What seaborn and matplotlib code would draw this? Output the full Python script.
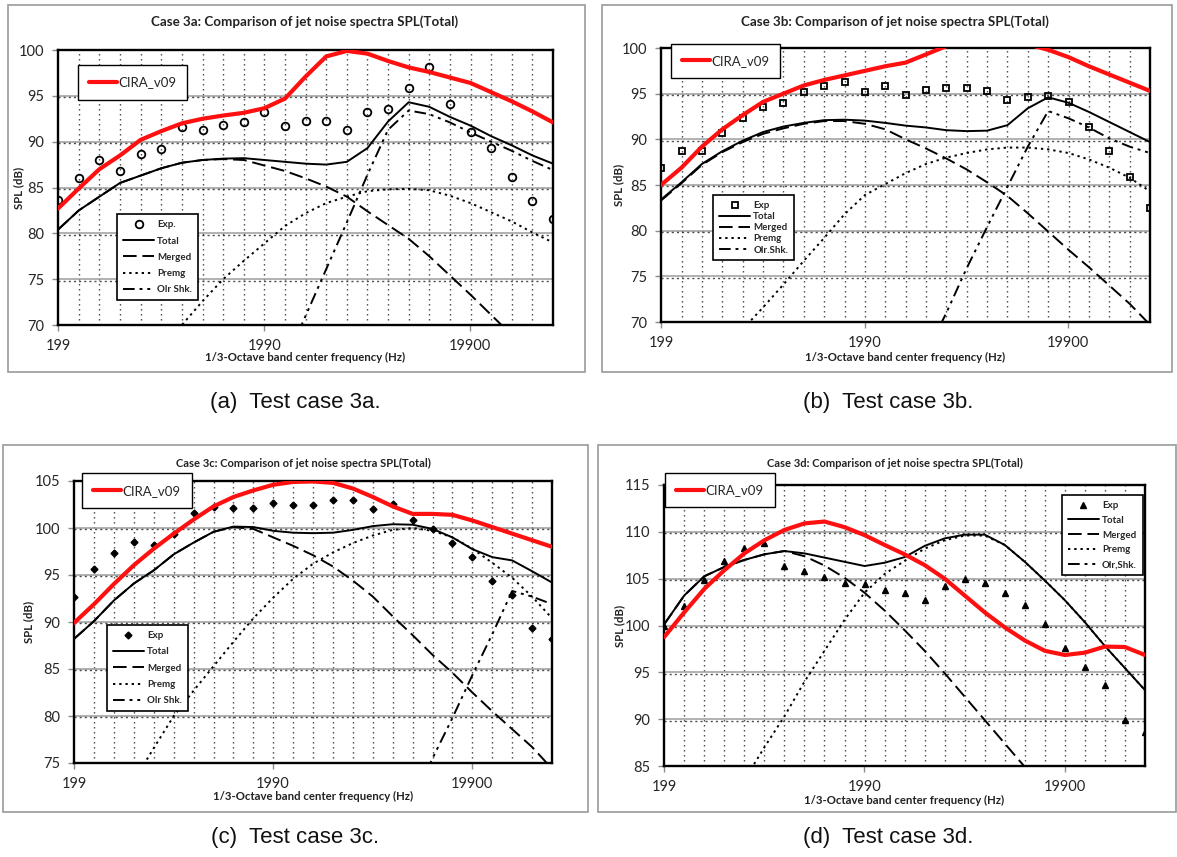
import numpy as np
import matplotlib
matplotlib.use("Agg")
import matplotlib.pyplot as plt
import seaborn as sns
from matplotlib.patches import Rectangle
from matplotlib.ticker import FixedLocator, NullFormatter

nan = np.nan

# 1/3-octave band centre frequencies (Hz)
freq = [199, 251, 316, 398, 501, 631, 794, 1000, 1259, 1585, 1995, 2512, 3162,
        3981, 5012, 6310, 7943, 10000, 12589, 15849, 19953, 25119, 31623, 39811, 50119]
x_ticks = [199, 1990, 19900]
x_tick_labels = ["199", "1990", "19900"]

# ---------------- Case 3a ----------------
a_exp = [83.6, 86.0, 88.0, 86.8, 88.7, 89.2, 91.6, 91.3, 91.8, 92.2, 93.2, 91.7, 92.3,
         92.3, 91.3, 93.2, 93.6, 95.9, 98.1, 94.1, 91.1, 89.3, 86.1, 83.5, 81.6]
a_total = [80.4, 82.5, 84.0, 85.5, 86.3, 87.1, 87.7, 88.0, 88.15, 88.2, 88.0, 87.8, 87.6,
           87.5, 87.8, 89.3, 92.2, 94.3, 93.8, 92.7, 91.75, 90.6, 89.6, 88.5, 87.6]
a_merged = [80.4, 82.5, 84.0, 85.5, 86.3, 87.1, 87.7, 88.0, 88.1, 88.0, 87.4, 86.8, 86.0,
            85.1, 84.0, 82.4, 80.9, 79.4, 77.5, 75.4, 73.3, 71.1, 68.9, 66.7, 64.5]
a_premg = [nan, nan, nan, nan, nan, 67.5, 70.0, 72.6, 75.0, 77.0, 78.9, 80.8, 82.2,
           83.3, 84.0, 84.6, 84.8, 84.85, 84.7, 84.1, 83.3, 82.3, 81.3, 80.1, 79.0]
a_olr = [nan, nan, nan, nan, nan, nan, nan, nan, nan, nan, nan, 65.9, 71.0,
         76.1, 81.2, 86.4, 91.3, 93.4, 93.0, 92.1, 91.0, 90.0, 89.0, 87.9, 86.9]
a_cira = [82.7, 84.9, 87.0, 88.5, 90.2, 91.15, 92.0, 92.5, 92.85, 93.15, 93.65, 94.7, 97.1,
          99.3, 99.9, 99.6, 98.8, 98.1, 97.6, 97.0, 96.4, 95.4, 94.4, 93.3, 92.1]

# ---------------- Case 3b ----------------
b_exp = [86.9, 88.7, 88.7, 90.7, 92.3, 93.5, 94.0, 95.2, 95.8, 96.3, 95.2, 95.8, 94.8,
         95.4, 95.6, 95.6, 95.3, 94.3, 94.6, 94.7, 94.1, 91.4, 88.7, 85.9, 82.5]
b_total = [83.4, 85.3, 87.3, 88.7, 89.85, 90.8, 91.4, 91.8, 92.1, 92.15, 92.05, 91.8, 91.5,
           91.3, 91.0, 90.9, 90.95, 91.55, 93.4, 94.6, 94.0, 93.0, 91.9, 90.8, 89.7]
b_merged = [83.3, 85.2, 87.2, 88.6, 89.7, 90.6, 91.2, 91.7, 92.0, 92.0, 91.7, 91.1, 90.0,
            89.0, 87.9, 86.7, 85.3, 83.8, 81.9, 79.9, 77.9, 76.0, 74.0, 72.0, 69.7]
b_premg = [nan, nan, nan, nan, 69.2, 71.6, 74.1, 76.7, 79.2, 81.8, 83.9, 85.1, 86.3,
           87.3, 88.0, 88.5, 88.9, 89.1, 89.1, 88.9, 88.5, 87.8, 86.9, 85.8, 84.3]
b_olr = [nan, nan, nan, nan, nan, nan, nan, nan, nan, nan, nan, nan, nan,
         66.5, 71.0, 75.9, 80.4, 84.8, 89.2, 93.1, 92.3, 91.3, 90.1, 89.2, 88.5]
b_cira = [85.0, 86.9, 89.2, 91.1, 92.65, 94.1, 95.0, 95.9, 96.5, 97.0, 97.5, 98.0, 98.4,
          99.3, 100.2, 100.9, 101.2, 101.0, 100.4, 99.8, 99.0, 98.0, 97.1, 96.2, 95.3]

# ---------------- Case 3c ----------------
c_exp = [92.7, 95.6, 97.3, 98.5, 98.2, 99.4, 101.6, 102.2, 102.1, 102.1, 102.7, 102.4, 102.4,
         103.0, 103.0, 102.0, 102.6, 100.8, 99.9, 98.4, 96.9, 94.4, 92.9, 89.4, 88.2]
c_total = [88.2, 90.1, 92.3, 94.1, 95.5, 97.2, 98.45, 99.6, 100.15, 100.1, 99.7, 99.5, 99.45,
           99.5, 99.8, 100.2, 100.4, 100.35, 99.9, 99.0, 97.75, 96.9, 96.55, 95.4, 94.2]
c_merged = [88.2, 90.1, 92.3, 94.1, 95.5, 97.2, 98.45, 99.6, 100.1, 99.9, 99.0, 98.1, 97.1,
            95.9, 94.4, 92.7, 90.6, 88.6, 86.5, 84.6, 82.5, 80.5, 78.6, 76.7, 74.4]
c_premg = [nan, nan, nan, 73.1, 76.6, 80.0, 82.7, 85.3, 87.9, 90.4, 92.6, 94.6, 96.2,
           97.4, 98.4, 99.2, 99.8, 100.0, 99.7, 99.0, 97.8, 96.3, 94.7, 92.7, 90.4]
c_olr = [nan, nan, nan, nan, nan, nan, nan, nan, nan, nan, nan, nan, nan,
         nan, nan, nan, nan, 71.0, 75.5, 79.8, 84.35, 88.7, 93.3, 92.7, 91.9]
c_cira = [89.9, 91.9, 94.05, 96.05, 97.8, 99.4, 100.9, 102.3, 103.3, 104.0, 104.6, 104.9, 104.95,
          104.8, 104.2, 103.3, 102.3, 101.5, 101.5, 101.4, 100.8, 100.1, 99.4, 98.7, 98.0]

# ---------------- Case 3d ----------------
d_exp = [100.0, 102.1, 104.9, 106.9, 108.3, 108.8, 106.4, 105.8, 105.2, 104.5, 104.4, 103.8, 103.5,
         102.7, 104.2, 105.0, 104.5, 103.5, 102.2, 100.2, 97.6, 95.6, 93.6, 89.9, 88.6]
d_total = [100.1, 103.2, 105.25, 106.25, 107.0, 107.6, 107.95, 107.7, 107.25, 106.8, 106.35, 106.7, 107.3,
           108.5, 109.3, 109.7, 109.7, 108.6, 106.8, 104.8, 102.7, 100.35, 97.8, 95.45, 93.1]
d_merged = [100.1, 103.2, 105.25, 106.25, 107.0, 107.6, 107.95, 107.4, 106.4, 105.1, 103.5, 101.6, 99.5,
            97.3, 94.9, 92.4, 89.9, 87.4, 84.9, 82.4, 79.9, 77.4, 74.9, 72.4, 69.9]
d_premg = [nan, nan, nan, nan, 83.5, 87.0, 90.3, 94.0, 97.3, 100.6, 103.5, 105.5, 106.9,
           108.2, 109.1, 109.6, 109.6, 108.6, 106.8, 104.8, 102.7, 100.35, 97.8, 95.45, 93.1]
d_olr = [nan] * 25
d_cira = [98.75, 101.4, 103.9, 105.9, 107.7, 109.1, 110.2, 110.9, 111.1, 110.5, 109.65, 108.6, 107.6,
          106.45, 105.0, 103.2, 101.4, 99.8, 98.4, 97.3, 96.85, 97.1, 97.75, 97.7, 96.85]

panels = [
    dict(title="Case 3a: Comparison of jet noise spectra SPL(Total)",
         caption="(a)  Test case 3a.",
         exp=a_exp, total=a_total, merged=a_merged, premg=a_premg, olr=a_olr, cira=a_cira,
         labels=["Exp.", "Total", "Merged", "Premg", "Olr Shk."],
         ylim=(70, 100), yticks=[70, 75, 80, 85, 90, 95, 100],
         axpx=(58, 50, 553, 325), frame=(8, 5, 585, 372), title_y=22, title_fs=9.6,
         xlab_y=357, ylab_x=19, cap=(295, 403),
         marker=dict(marker="o", ms=5.5, mfc="none", mec="black", mew=1.3),
         leg_loc="lower left", leg_anchor=(0.12, 0.09), leg_sp=0.75,
         cira_anchor=(0.04, 0.945)),
    dict(title="Case 3b: Comparison of jet noise spectra SPL(Total)",
         caption="(b)  Test case 3b.",
         exp=b_exp, total=b_total, merged=b_merged, premg=b_premg, olr=b_olr, cira=b_cira,
         labels=["Exp", "Total", "Merged", "Premg", "Olr.Shk."],
         ylim=(70, 100), yticks=[70, 75, 80, 85, 90, 95, 100],
         axpx=(661, 48, 1150, 322), frame=(602, 5, 1172, 372), title_y=22, title_fs=9.6,
         xlab_y=357, ylab_x=619, cap=(888, 403),
         marker=dict(marker="s", ms=5, mfc="none", mec="black", mew=1.3),
         leg_loc="lower left", leg_anchor=(0.107, 0.225), leg_sp=0.22,
         cira_anchor=(0.02, 1.015)),
    dict(title="Case 3c: Comparison of jet noise spectra SPL(Total)",
         caption="(c)  Test case 3c.",
         exp=c_exp, total=c_total, merged=c_merged, premg=c_premg, olr=c_olr, cira=c_cira,
         labels=["Exp", "Total", "Merged", "Premg", "Olr Shk."],
         ylim=(75, 105), yticks=[75, 80, 85, 90, 95, 100, 105],
         axpx=(74, 481, 552, 763), frame=(3, 445, 588, 812), title_y=463, title_fs=8.0,
         xlab_y=796, ylab_x=29, cap=(295, 838),
         marker=dict(marker="D", ms=3.5, mfc="black", mec="black", mew=1.0),
         leg_loc="lower left", leg_anchor=(0.069, 0.184), leg_sp=0.75,
         cira_anchor=(0.017, 1.027)),
    dict(title="Case 3d: Comparison of jet noise spectra SPL(Total)",
         caption="(d)  Test case 3d.",
         exp=d_exp, total=d_total, merged=d_merged, premg=d_premg, olr=d_olr, cira=d_cira,
         labels=["Exp", "Total", "Merged", "Premg", "Olr,Shk."],
         ylim=(85, 115), yticks=[85, 90, 95, 100, 105, 110, 115],
         axpx=(664, 485, 1145, 766), frame=(598, 445, 1176, 812), title_y=463, title_fs=8.0,
         xlab_y=800, ylab_x=620, cap=(888, 838),
         marker=dict(marker="^", ms=5, mfc="black", mec="black", mew=1.0),
         leg_loc="upper right", leg_anchor=(0.995, 0.964), leg_sp=0.6,
         cira_anchor=(0.002, 1.043)),
]

sns.set_theme(style="white")
plt.rcParams["font.family"] = ["Lato", "DejaVu Sans"]

W, H = 1177, 857
fig = plt.figure(figsize=(W / 100, H / 100), dpi=100)


def fx(px):
    return px / W


def fy(py):
    return 1 - py / H


line_styles = {
    "total": dict(color="black", lw=1.4, ls="-"),
    "merged": dict(color="black", lw=1.4, ls=(0, (7, 3))),
    "premg": dict(color="black", lw=1.4, ls=(0, (1.2, 2.0))),
    "olr": dict(color="black", lw=1.4, ls=(0, (6, 2.5, 1.5, 2.5, 1.5, 2.5))),
}

for p in panels:
    fl, ft, fr, fb = p["frame"]
    fig.patches.append(Rectangle((fx(fl), fy(fb)), fx(fr) - fx(fl), fy(ft) - fy(fb),
                                 transform=fig.transFigure, fill=False,
                                 edgecolor="#9a9a9a", lw=1.2, zorder=0))
    l, t, r, b = p["axpx"]
    ax = fig.add_axes([fx(l), fy(b), fx(r) - fx(l), fy(t) - fy(b)])
    ax.set_xscale("log")

    # scanned dotted grid + Excel grey grid
    ax.xaxis.set_minor_locator(FixedLocator(freq))
    ax.xaxis.set_minor_formatter(NullFormatter())
    ax.grid(axis="x", which="minor", color="black", lw=1.0, ls=(0, (1, 2.6)), alpha=0.75)
    ax.grid(axis="y", which="major", color="#9c9c9c", lw=1.1, ls="-")
    for yv in p["yticks"][1:-1]:
        ax.axhline(yv - 0.15, color="black", lw=1.0, ls=(0, (1.5, 2.2)), alpha=0.7, zorder=1)

    labels = p["labels"]
    sns.lineplot(x=freq, y=p["exp"], ax=ax, linestyle="none", color="black",
                 label=labels[0], zorder=4, **p["marker"])
    sns.lineplot(x=freq, y=p["total"], ax=ax, label=labels[1], zorder=3, **line_styles["total"])
    sns.lineplot(x=freq, y=p["merged"], ax=ax, label=labels[2], zorder=3, **line_styles["merged"])
    sns.lineplot(x=freq, y=p["premg"], ax=ax, label=labels[3], zorder=3, **line_styles["premg"])
    sns.lineplot(x=freq, y=p["olr"], ax=ax, label=labels[4], zorder=3, **line_styles["olr"])
    sns.lineplot(x=freq, y=p["cira"], ax=ax, label="CIRA_v09", color="#ff1010", lw=3.0, zorder=6)

    ax.set_xlim(freq[0], freq[-1])
    ax.set_ylim(*p["ylim"])
    ax.set_yticks(p["yticks"])
    ax.set_xticks(x_ticks)
    ax.set_xticklabels(x_tick_labels)
    ax.tick_params(axis="both", which="major", labelsize=10.5, length=4, width=1,
                   color="#8c8c8c", direction="out", pad=6, bottom=True, left=True)
    ax.tick_params(axis="x", which="minor", length=0)
    for s in ax.spines.values():
        s.set_color("black")
        s.set_linewidth(1.7)
    ax.set_xlabel("")
    ax.set_ylabel("")

    handles, labs = ax.get_legend_handles_labels()
    hmap = dict(zip(labs, handles))
    leg1 = ax.legend([hmap[k] for k in labels], labels, loc=p["leg_loc"],
                     bbox_to_anchor=p["leg_anchor"], borderaxespad=0,
                     frameon=True, fancybox=False, edgecolor="black", framealpha=1,
                     handlelength=3.2, handletextpad=0.3, labelspacing=p["leg_sp"],
                     borderpad=0.6, prop=dict(weight="bold", size=7))
    leg1.get_frame().set_linewidth(1.2)
    leg1.set_zorder(7)
    ax.add_artist(leg1)
    leg2 = ax.legend([hmap["CIRA_v09"]], ["CIRA_v09"], loc="upper left",
                     bbox_to_anchor=p["cira_anchor"], borderaxespad=0, fontsize=9.5,
                     frameon=True, fancybox=False, edgecolor="black", framealpha=1,
                     handlelength=2.1, handletextpad=0.1, borderpad=0.85)
    leg2.get_frame().set_linewidth(1.0)
    leg2.set_zorder(8)

    fig.text(fx((fl + fr) / 2 + 8), fy(p["title_y"]), p["title"], ha="center", va="center",
             fontsize=p["title_fs"], fontweight="bold", color="#222222")
    fig.text(fx((l + r) / 2), fy(p["xlab_y"]), "1/3-Octave band center frequency (Hz)",
             ha="center", va="center", fontsize=8.2, fontweight="bold", color="#222222")
    fig.text(fx(p["ylab_x"]), fy((t + b) / 2), "SPL (dB)", ha="center", va="center",
             rotation=90, fontsize=8.2, fontweight="bold", color="#222222")
    fig.text(fx(p["cap"][0]), fy(p["cap"][1]), p["caption"], ha="center", va="center",
             fontsize=16, family=["Liberation Sans", "DejaVu Sans"], color="#111111")

fig.savefig("out.png", dpi=100, facecolor="white")
